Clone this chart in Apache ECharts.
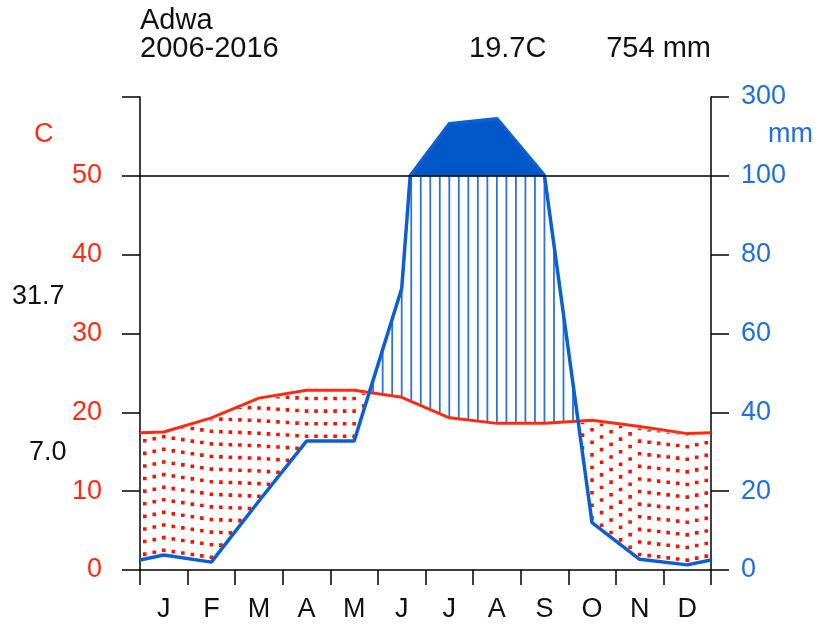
<!DOCTYPE html>
<html>
<head>
<meta charset="utf-8">
<script src="https://cdn.jsdelivr.net/npm/echarts@6/dist/echarts.min.js"></script>
<style>
  html, body { margin: 0; padding: 0; background: #fff; }
  #main { width: 818px; height: 625px; }
</style>
</head>
<body>
<div id="main"></div>
<script>
// monthly data
const months = ['J', 'F', 'M', 'A', 'M', 'J', 'J', 'A', 'S', 'O', 'N', 'D']
const tempC = [17.5, 19.3, 21.8, 22.8, 22.8, 21.9, 19.3, 18.6, 18.6, 19.0, 18.2, 17.3]
const precMm = [3.8, 2.0, 17.5, 32.7, 32.7, 71.4, 232, 245, 101, 12, 2.7, 1.3]
const tempTicks = [0, 10, 20, 30, 40, 50]
const precTicks = [0, 20, 40, 60, 80, 100, 300]

const FONT = '"Liberation Sans", Arial, sans-serif'
const RED = '#ff2a10'
const BLUE = '#0a5fd2'

// month midpoints, plus the two edges (mean of Dec and Jan)
const xs = [0].concat(months.map((m, i) => i + 0.5), [12])
const tEdge = (tempC[0] + tempC[11]) / 2
const pEdge = (precMm[0] + precMm[11]) / 2
const tFull = [tEdge].concat(tempC, [tEdge])
const pFull = [pEdge].concat(precMm, [pEdge])

// 0-100 mm drawn at 2 mm per degree, above 100 mm at 20 mm per degree
function scaleP (mm) {
  return mm <= 100 ? mm / 2 : 50 + (mm - 100) / 20
}
function interp (xv, yv, x) {
  for (let i = 0; i < xv.length - 1; i++) {
    if (x >= xv[i] && x <= xv[i + 1]) {
      const f = (x - xv[i]) / (xv[i + 1] - xv[i])
      return yv[i] + f * (yv[i + 1] - yv[i])
    }
  }
  return yv[yv.length - 1]
}

// precipitation line vertices, with a break where it crosses 100 mm
const pLine = []
for (let i = 0; i < xs.length; i++) {
  if (i > 0) {
    const a = pFull[i - 1], b = pFull[i]
    if ((a - 100) * (b - 100) < 0) {
      const f = (100 - a) / (b - a)
      pLine.push([xs[i - 1] + f * (xs[i] - xs[i - 1]), 50])
    }
  }
  pLine.push([xs[i], scaleP(pFull[i])])
}
const tLine = xs.map((x, i) => [x, tFull[i]])

// hatch columns every fifth of a month
const hatchX = []
for (let k = 0; k < 60; k++) hatchX.push(0.1 + k * 0.2)

const chart = echarts.init(document.getElementById('main'))

const txt = (text, pos, color, size) => Object.assign({
  text: text,
  padding: 0,
  textStyle: { fontFamily: FONT, fontSize: size || 27, fontWeight: 'normal', color: color || '#111' }
}, pos)

const option = {
  animation: false,
  backgroundColor: '#fff',
  title: [
    txt('Adwa', { left: 140, top: 6 }, null, 29),
    txt('2006-2016', { left: 140, top: 34 }, null, 29),
    txt('19.7C', { left: 469, top: 34 }, null, 29),
    txt('754 mm', { right: 107, top: 34 }, null, 29),
    txt('C', { left: 34, top: 121 }, RED),
    txt('31.7', { left: 12, top: 283 }),
    txt('7.0', { left: 29, top: 439 }),
    txt('mm', { left: 768, top: 121 }, '#1f6fe0')
  ],
  grid: { left: 140, right: 107, top: 97, bottom: 55 },
  xAxis: [{
    type: 'value',
    min: 0,
    max: 12,
    interval: 1,
    axisLine: { lineStyle: { color: '#000', width: 1.5 } },
    axisTick: { length: 15, lineStyle: { color: '#000', width: 1.5 } },
    axisLabel: { show: false },
    splitLine: { show: false }
  }, {
    type: 'category',
    data: months,
    position: 'bottom',
    axisLine: { show: false },
    axisTick: { show: false },
    axisLabel: { margin: 26, color: '#111', fontFamily: FONT, fontSize: 27 },
    splitLine: { show: false }
  }],
  yAxis: [{
    type: 'value',
    min: 0,
    max: 60,
    interval: 10,
    axisLine: { show: true, lineStyle: { color: '#000', width: 1.5 } },
    axisTick: { show: true, length: 18, lineStyle: { color: '#000', width: 1.5 } },
    axisLabel: {
      margin: 38,
      color: RED,
      fontFamily: FONT,
      fontSize: 27,
      formatter: v => (tempTicks.indexOf(v) >= 0 ? String(v) : '')
    },
    splitLine: { show: false }
  }, {
    type: 'value',
    position: 'right',
    min: 0,
    max: 60,
    interval: 10,
    axisLine: { show: true, lineStyle: { color: '#000', width: 1.5 } },
    axisTick: { show: true, length: 18, lineStyle: { color: '#000', width: 1.5 } },
    axisLabel: {
      margin: 30,
      color: '#1f6fe0',
      fontFamily: FONT,
      fontSize: 27,
      formatter: v => String(precTicks[Math.round(v / 10)])
    },
    splitLine: { show: false }
  }],
  series: [
    {
      // carries the 50 C / 100 mm reference line, below the fills
      type: 'line',
      z: 0,
      data: tLine,
      symbol: 'none',
      silent: true,
      lineStyle: { opacity: 0 },
      markLine: {
        symbol: 'none',
        silent: true,
        label: { show: false },
        lineStyle: { color: '#000', width: 1.5, type: 'solid' },
        data: [{ yAxis: 50 }]
      }
    },
    {
      type: 'custom',
      z: 1,
      silent: true,
      data: [0],
      renderItem: function (params, api) {
        const children = []
        hatchX.forEach(x => {
          const t = interp(xs, tFull, x)
          const p = scaleP(interp(xs, pFull, x))
          if (p > t) {
            const a = api.coord([x, t])
            const b = api.coord([x, Math.min(p, 50)])
            children.push({
              type: 'line',
              shape: { x1: a[0], y1: a[1], x2: b[0], y2: b[1] },
              style: { stroke: '#2a74dc', lineWidth: 1.8 }
            })
          } else {
            // dry months: dotted columns drawn upward from the rain line
            const a = api.coord([x, p])
            const b = api.coord([x, t])
            children.push({
              type: 'line',
              shape: { x1: a[0], y1: a[1] - 3, x2: b[0], y2: b[1] + 2 },
              style: { stroke: '#f41500', lineWidth: 3.6, lineDash: [3.6, 9], lineCap: 'butt' }
            })
          }
        })
        const wet = pLine.filter(pt => pt[1] >= 50 - 1e-9).map(pt => api.coord(pt))
        if (wet.length > 2) {
          children.push({
            type: 'polygon',
            shape: { points: wet },
            style: { fill: '#0057c8', stroke: '#0057c8', lineWidth: 1 }
          })
        }
        return { type: 'group', children: children }
      }
    },
    {
      type: 'line',
      z: 2,
      data: tLine,
      symbol: 'none',
      silent: true,
      lineStyle: { color: RED, width: 3 }
    },
    {
      type: 'line',
      z: 3,
      data: pLine,
      symbol: 'none',
      silent: true,
      lineStyle: { color: BLUE, width: 3.5 }
    }
  ]
}

chart.setOption(option)
</script>
</body>
</html>
